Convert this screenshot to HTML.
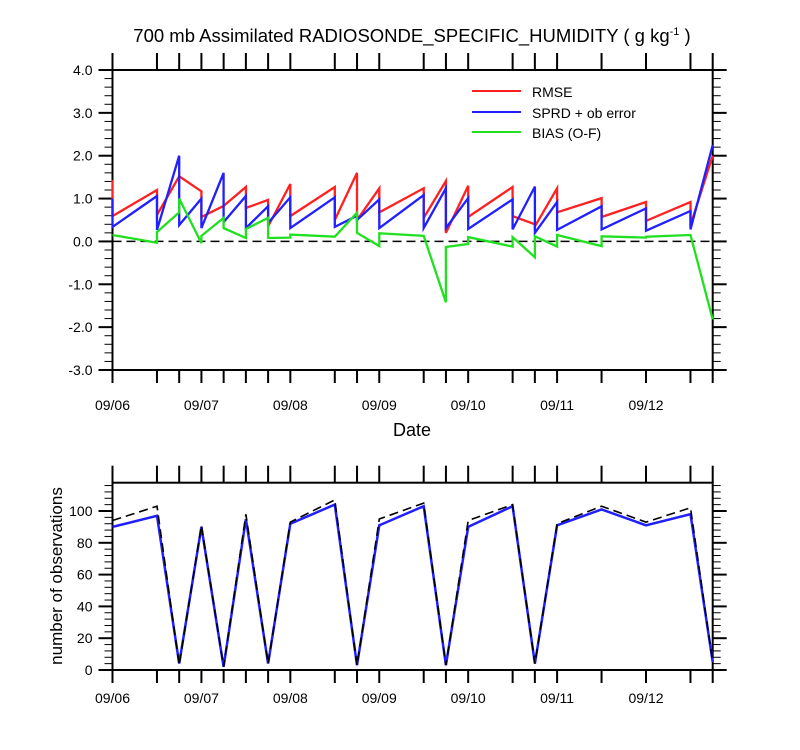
<!DOCTYPE html>
<html><head><meta charset="utf-8">
<style>
html,body{margin:0;padding:0;background:#fff;}
svg{display:block;font-family:"Liberation Sans",Arial,sans-serif;}
</style></head>
<body>
<svg id="chart" width="800" height="750" viewBox="0 0 800 750" xmlns="http://www.w3.org/2000/svg">
<text x="412" y="42" font-size="18.5" text-anchor="middle">700 mb Assimilated RADIOSONDE_SPECIFIC_HUMIDITY ( g kg<tspan font-size="11" dy="-7">-1</tspan><tspan dy="7"> )</tspan></text>
<text x="412" y="436" font-size="18" text-anchor="middle">Date</text>
<text x="0" y="0" font-size="17" text-anchor="middle" transform="translate(62,576) rotate(-90)">number of observations</text>
<g id="top"></g>
<g id="bot"></g>
<g>
<line x1="472" y1="91" x2="521" y2="91" stroke="#ff2020" stroke-width="2"/>
<text x="532" y="97" font-size="14">RMSE</text>
<line x1="472" y1="112" x2="521" y2="112" stroke="#2020ff" stroke-width="2"/>
<text x="532" y="118" font-size="14">SPRD + ob error</text>
<line x1="472" y1="132" x2="521" y2="132" stroke="#20e020" stroke-width="2"/>
<text x="532" y="138" font-size="14">BIAS (O-F)</text>
</g>
</svg>
<script>
// observation times (days after 09/06 00Z)
var times = [0,0.5,0.75,1,1.25,1.5,1.75,2,2.5,2.75,3,3.5,3.75,4,4.5,4.75,5,5.5,6,6.5,6.75];
// each time: value arriving (in) and value leaving (out)
var rmseIn  = [1.43,1.2,1.52,1.17,0.83,1.27,0.97,1.34,1.27,1.6,1.24,1.24,1.41,1.3,1.27,0.4,1.24,1.01,0.92,0.92,2.0];
var rmseOut = [0.59,0.62,1.52,0.57,0.83,0.78,0.35,0.59,0.5,0.5,0.68,0.55,0.2,0.57,0.59,0.35,0.68,0.57,0.48,0.38,2.0];
var sprdIn  = [1.0,1.06,2.0,1.0,1.6,1.06,0.82,1.03,1.03,0.6,0.98,1.08,1.24,1.01,0.98,1.28,0.92,0.82,0.77,0.71,2.25];
var sprdOut = [0.34,0.27,0.38,0.31,0.45,0.31,0.43,0.31,0.34,0.5,0.31,0.31,0.31,0.29,0.28,0.2,0.27,0.28,0.25,0.28,2.25];
var biasIn  = [0.15,-0.03,0.68,-0.04,0.55,0.08,0.55,0.09,0.11,0.67,-0.11,0.13,-1.42,-0.06,-0.12,-0.37,-0.12,-0.11,0.09,0.15,-1.82];
var biasOut = [0.15,0.22,1.0,0.13,0.31,0.29,0.08,0.16,0.11,0.2,0.19,0.13,-0.13,0.1,0.1,0.12,0.15,0.12,0.11,0.15,-1.82];
var countBlue = [90,97,4,90,2,95,4,92,104,3,91,103,3,90,103,4,91,101,91,98,5];
var countAll  = [94,103,3,91,2,98,4,93,107,3,95,105,3,94,104,4,92,103,93,102,5];
var dayLabels = ["09/06","09/07","09/08","09/09","09/10","09/11","09/12"];
var topTicks = [-3,-2,-1,0,1,2,3,4];
var botTicks = [0,20,40,60,80,100];

var NS="http://www.w3.org/2000/svg";
var X0=112.5,X1=712.7,TMAX=6.75;
function xs(t){return X0+(X1-X0)*t/TMAX;}
var TT=70,TB=370,YMIN=-3,YMAX=4;
function ys(v){return TB-(v-YMIN)/(YMAX-YMIN)*(TB-TT);}
var BT=482.7,BB=670,BMAX=117.8;
function yb(v){return BB-v/BMAX*(BB-BT);}
function el(p,tag,a){var e=document.createElementNS(NS,tag);for(var k in a)e.setAttribute(k,a[k]);p.appendChild(e);return e;}
function ln(p,x1,y1,x2,y2,w,name){var e=el(p,'line',{x1:x1,y1:y1,x2:x2,y2:y2,stroke:'#000','stroke-width':w});

return e;}
function txt(p,x,y,s,anchor,name){var e=el(p,'text',{x:x,y:y,'font-size':14,'text-anchor':anchor});e.textContent=s;

return e;}

function frame(g,yTop,yBot,ymap,ticks,minorStep,fmt,prefix,maxVal,labOff){
  var r=el(g,'rect',{x:X0,y:yTop,width:X1-X0,height:yBot-yTop,fill:'none',stroke:'#000','stroke-width':2});
  
  
  times.forEach(function(t){var x=xs(t);ln(g,x,yTop-17,x,yTop,2,prefix+'-top-tick');ln(g,x,yBot,x,yBot+13,2,prefix+'-bottom-tick');});
  dayLabels.forEach(function(s,i){txt(g,xs(i),yBot+labOff,s,'middle',prefix+'-x-label');});
  var lo=ticks[0];
  for(var v=lo;v<=maxVal+1e-6;v+=minorStep){var y=ymap(v);ln(g,X0-8,y,X0,y,1,prefix+'-y-minor-tick');ln(g,X1,y,X1+8,y,1,prefix+'-y-minor-tick-right');}
  ticks.forEach(function(v){var y=ymap(v);ln(g,X0-14,y,X0,y,2,prefix+'-y-major-tick');ln(g,X1,y,X1+14,y,2,prefix+'-y-major-tick-right');
    txt(g,X0-20,y+5,fmt(v),'end',prefix+'-y-label');});
}
var gTop=document.getElementById('top'),gBot=document.getElementById('bot');
frame(gTop,TT,TB,ys,topTicks,0.2,function(v){return v.toFixed(1);},'top',YMAX,40);
frame(gBot,BT,BB,yb,botTicks,4,function(v){return String(v);},'bottom',BMAX,33);
ln(gTop,X0,ys(0),X1,ys(0),1.5,'zero-line').setAttribute('stroke-dasharray','9,5');

function sawPath(ins,outs){var d='';for(var i=0;i<times.length;i++){var x=xs(times[i]);
  d+=(i?'L':'M')+x.toFixed(1)+','+ys(ins[i]).toFixed(1)+'L'+x.toFixed(1)+','+ys(outs[i]).toFixed(1);}return d;}
function simplePath(vals){var d='';for(var i=0;i<times.length;i++){d+=(i?'L':'M')+xs(times[i]).toFixed(1)+','+yb(vals[i]).toFixed(1);}return d;}
var p1=el(gTop,'path',{d:sawPath(rmseIn,rmseOut),fill:'none',stroke:'#ff2020','stroke-width':2.3});


var p2=el(gTop,'path',{d:sawPath(sprdIn,sprdOut),fill:'none',stroke:'#2020ff','stroke-width':2.3});


var p3=el(gTop,'path',{d:sawPath(biasIn,biasOut),fill:'none',stroke:'#20e020','stroke-width':2.3});


var p4=el(gBot,'path',{d:simplePath(countBlue),fill:'none',stroke:'#2020ff','stroke-width':2.5});


var p5=el(gBot,'path',{d:simplePath(countAll),fill:'none',stroke:'#000','stroke-width':1.6,'stroke-dasharray':'9,5'});


</script>
</body></html>
